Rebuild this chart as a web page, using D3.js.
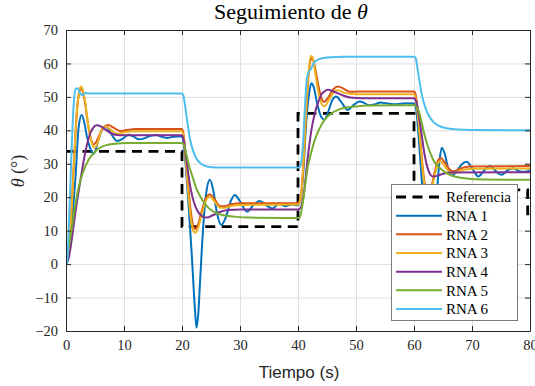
<!DOCTYPE html>
<html><head><meta charset="utf-8">
<script src="https://cdn.jsdelivr.net/npm/d3@7"></script>
<style>
body{margin:0;background:#fff}
svg{display:block}
</style></head><body>
<svg id="c" width="535" height="386"></svg>
<script>
// ---------- data ----------
const xTicks = [0, 10, 20, 30, 40, 50, 60, 70, 80];
const yTicks = [-20, -10, 0, 10, 20, 30, 40, 50, 60, 70];
const legendLabels = ["Referencia", "RNA 1", "RNA 2", "RNA 3", "RNA 4", "RNA 5", "RNA 6"];

const referencia = [[0,33.7],[20,33.7],[20,11.2],[40,11.2],[40,45.1],[60,45.1],[60,22.2],[79.6,22.2],[79.6,15],[80,15]];

const rna1 = [[0,0],[0.4,2],[1,12],[1.6,25],[2.2,41.2],[2.7,44.6],[3.2,42],[3.6,38.2],[4.2,34.5],[4.8,33],[5.6,37.2],[6.2,40.2],[6.8,41.2],[7.6,39.5],[8.8,36.8],[9.8,37.5],[10.8,38.7],[11.6,38.2],[12.6,37.3],[13.5,37.6],[14.6,38.4],[15.6,38.6],[16.5,38.1],[17.4,37.7],[18.5,38.1],[20,38.2],
  [20.3,36],[20.7,28],[21.2,16],[21.7,2.3],[22.2,-12.7],[22.5,-19],[22.8,-15],[23.1,-5.7],[23.7,12.3],[24.2,21.5],[24.8,25.2],[25.4,22],[26,15.5],[26.8,11.7],[27.6,14.2],[28.4,18.8],[29.1,20.7],[30,18.8],[31.2,15.7],[32.3,17.6],[33.4,18.9],[34.5,17.6],[35.6,16.6],[36.7,18.1],[37.8,17.3],[38.9,17.8],[40,17.6],
  [40.4,19],[40.9,27],[41.4,42],[42,52],[42.3,54.1],[42.7,53],[43.3,48],[44,44],[44.6,43.2],[45.2,45.5],[45.9,49],[46.6,50.1],[47.4,48.6],[48.6,46.1],[49.6,47.6],[50.6,48.6],[51.4,48.2],[52.2,47.5],[53.2,47.7],[54.2,48.3],[55.5,48],[57,47.8],[58.5,48.1],[60,48],
  [60.4,46],[60.8,38],[61.3,26],[61.8,14],[62.3,5],[62.8,2],[63.3,7],[63.9,20],[64.4,31],[64.8,34.8],[65.3,33],[65.9,28.5],[66.5,26.5],[67.3,27.6],[68.2,29.8],[69.1,30.6],[70.1,28.4],[71.1,26.2],[72.1,28],[73.1,29.3],[74.1,27.8],[75.1,26.7],[76.1,28],[77.1,28.7],[78.1,27.8],[79.1,27.6],[80,28.1]];

const rna2 = [[0,0],[0.45,3.4],[0.9,15],[1.3,28.2],[1.9,46.1],[2.3,51.5],[2.6,52.8],[2.9,51.5],[3.3,48.1],[3.7,43],[4.2,38.2],[4.7,35.8],[5.2,36.5],[5.8,38.8],[6.5,40.8],[7.3,41.6],[8.2,40.8],[9.3,39.8],[10.5,40.1],[12,40.4],[20,40.4],
  [20.3,38.5],[20.6,33],[21,25],[21.5,16],[22,11],[22.3,10.5],[22.8,12],[23.5,16.5],[24.2,20],[24.8,20.9],[25.5,19.7],[26.5,17.4],[27.3,17.3],[28.5,17.9],[30,18.2],[40,18.2],
  [40.3,19],[40.6,22],[41,32],[41.4,45],[41.8,56],[42.2,61.2],[42.5,61.6],[42.9,59],[43.5,53.5],[44.1,49.3],[44.5,48.5],[45.2,49.8],[46.1,52.3],[46.9,53.1],[47.9,52.4],[49,51.5],[50.5,51.6],[60,51.6],
  [60.3,50.5],[60.7,45],[61.1,37],[61.5,29],[62,22.5],[62.4,20.8],[62.9,22.3],[63.5,27],[64.1,30.8],[64.6,31.7],[65.3,30.4],[66.2,28.2],[66.9,27.8],[68,28.6],[69.5,29.2],[80,29.3]];

const rna3 = [[0,0],[0.45,3],[0.9,14],[1.3,27.5],[1.9,46],[2.3,52],[2.6,53.1],[2.9,52],[3.3,48.5],[3.8,42],[4.3,37.2],[4.9,34.8],[5.4,36],[6,39.5],[6.7,41.2],[7.4,40.6],[8.2,39.5],[9,39],[10,39.4],[12,39.7],[20,39.7],
  [20.3,38],[20.6,32],[21,23],[21.5,14],[22,9.8],[22.3,9.4],[22.8,11],[23.5,15.5],[24.2,19.3],[24.8,20.2],[25.5,19],[26.5,16.9],[27.3,16.8],[28.5,17.4],[30,17.7],[40,17.8],
  [40.3,18.5],[40.6,21.5],[41,32],[41.4,46],[41.8,57],[42.2,62.2],[42.5,62],[42.9,58],[43.5,51.5],[44.1,47.8],[44.6,47.2],[45.3,49],[46.2,51.5],[46.9,52],[48,51.2],[50,50.8],[60,50.8],
  [60.3,49.5],[60.7,44],[61.1,36],[61.5,28],[62,21.5],[62.4,19.8],[62.9,21.5],[63.5,26],[64.1,30],[64.5,30.8],[65.2,29.5],[66.1,27.6],[66.8,27.3],[68,28],[70,28.5],[80,28.6]];

const rna4 = [[0,0],[0.5,2],[1,7.5],[1.6,15.2],[2.5,25.2],[3.3,33.2],[4.2,39.2],[4.8,41],[5.3,41.5],[6,41.2],[6.8,40.2],[7.7,39.2],[8.5,38.7],[10,38.5],[20,38.5],
  [20.3,37],[20.6,33.5],[21,28],[21.5,22.5],[22,18.8],[22.7,15.8],[23.5,14.3],[24.3,13.9],[25.3,14.6],[26.5,15.6],[28,16.2],[30,16.3],[40,16.3],
  [40.5,17],[41,21],[41.7,32.2],[42.3,40],[42.9,45.1],[43.5,48.5],[44,50.6],[44.6,51.7],[45.2,52.1],[46,51.7],[47.5,50.6],[49,49.8],[51,49.6],[60,49.6],
  [60.4,48.5],[60.8,45],[61.3,39],[61.8,33],[62.3,29],[62.8,26.8],[63.3,26.2],[64,26.4],[65,27],[66.5,27.4],[80,27.5]];

const rna5 = [[0,0],[0.5,5],[1.03,11.2],[1.6,17.5],[2.2,23.2],[3,27.8],[3.9,31.2],[5,33.6],[6.2,35.1],[8,35.9],[10.8,36.2],[20,36.2],
  [20.3,35.8],[20.7,33.2],[21.2,29.5],[21.8,26.2],[22.5,22.5],[23.3,19.8],[24.1,17.7],[25,16.2],[26,15.2],[27,14.7],[29,14.2],[32,13.9],[40,13.8],
  [40.3,14],[40.9,19.2],[41.3,24.5],[41.7,29.2],[42.3,33.5],[42.9,37.2],[43.7,40.5],[44.6,43.2],[45.7,45],[46.9,46.1],[48.3,46.8],[49.8,47.1],[52,47.4],[60,47.5],
  [60.4,47],[60.8,45.8],[61.3,42.5],[61.8,38.8],[62.2,36.2],[62.8,33.3],[63.3,31.2],[64,29.5],[64.8,28.2],[65.6,27.2],[67,26.2],[69,25.6],[72,25.3],[80,25.2]];

const rna6 = [[0,0],[0.2,0.5],[0.5,12],[0.8,26],[1.1,40],[1.4,49.5],[1.7,52.5],[2,52.6],[2.4,51.2],[2.8,50.5],[3.3,51.2],[4,51],[20,51],
  [20.2,50.6],[20.8,44],[21.4,37.2],[22,33.5],[22.5,31.5],[23.3,30],[24.3,29.2],[26,28.9],[40,28.9],
  [40.3,29],[40.6,31],[40.9,37],[41.2,47],[41.5,55],[41.8,57.3],[42.2,58.3],[42.8,60.3],[43.5,61.2],[45,61.8],[48,62],[60,62],
  [60.3,61.6],[60.6,58.5],[61,54.1],[61.4,50.3],[61.9,47.1],[62.5,44.6],[63.3,42.6],[64.3,41.3],[65.6,40.6],[67,40.3],[70,40.1],[80,40]];

const seriesData = [rna1, rna2, rna3, rna4, rna5, rna6];
const seriesColors = ["#0072BD", "#D95319", "#EDB120", "#7E2F8E", "#77AC30", "#4DBEEE"];

// ---------- chart ----------
const SERIF = "'Liberation Serif', 'DejaVu Serif', serif";
const SANS = "'Liberation Sans', Arial, sans-serif";
const svg = d3.select("#c");
const L = 66, R = 530, T = 30, B = 331;
const x = d3.scaleLinear().domain([0, 80]).range([L, R]);
const y = d3.scaleLinear().domain([-20, 70]).range([B, T]);

// grid
const grid = svg.append("g");
grid.append("g").attr("transform", `translate(0,${B})`)
  .call(d3.axisBottom(x).tickValues(xTicks).tickSize(-(B - T)).tickFormat(""))
  .call(g => { g.select(".domain").remove(); g.selectAll("line").attr("stroke", "#dfdfdf").attr("stroke-width", 1); });
grid.append("g").attr("transform", `translate(${L},0)`)
  .call(d3.axisLeft(y).tickValues(yTicks).tickSize(-(R - L)).tickFormat(""))
  .call(g => { g.select(".domain").remove(); g.selectAll("line").attr("stroke", "#dfdfdf").attr("stroke-width", 1); });

svg.append("defs").append("clipPath").attr("id", "clip")
  .append("rect").attr("x", L).attr("y", T).attr("width", R - L).attr("height", B - T);

const plot = svg.append("g").attr("clip-path", "url(#clip)");
const lineRef = d3.line().x(d => x(d[0])).y(d => y(d[1]));
plot.append("path").datum(referencia).attr("d", lineRef)
  .attr("fill", "none").attr("stroke", "#000").attr("stroke-width", 2.8)
  .attr("stroke-dasharray", "10,6.5");

const lineS = d3.line().x(d => x(d[0])).y(d => y(d[1])).curve(d3.curveMonotoneX);
seriesData.forEach((s, i) => {
  plot.append("path").datum(s).attr("d", lineS)
    .attr("fill", "none").attr("stroke", seriesColors[i]).attr("stroke-width", 2)
    .attr("stroke-linejoin", "round");
});

// axes
const axCol = "#262626";
const fmt = d => d < 0 ? "\u2212" + Math.abs(d) : String(d);
const xa = svg.append("g").attr("transform", `translate(0,${B})`)
  .call(d3.axisBottom(x).tickValues(xTicks).tickSizeInner(-5).tickSizeOuter(0).tickPadding(9).tickFormat(fmt));
const xt = svg.append("g").attr("transform", `translate(0,${T})`)
  .call(d3.axisTop(x).tickValues(xTicks).tickSizeInner(-5).tickSizeOuter(0).tickFormat(""));
const ya = svg.append("g").attr("transform", `translate(${L},0)`)
  .call(d3.axisLeft(y).tickValues(yTicks).tickSizeInner(-5).tickSizeOuter(0).tickPadding(8).tickFormat(fmt));
const yr = svg.append("g").attr("transform", `translate(${R},0)`)
  .call(d3.axisRight(y).tickValues(yTicks).tickSizeInner(-5).tickSizeOuter(0).tickFormat(""));
[xa, xt, ya, yr].forEach(g => {
  g.attr("font-family", null).attr("font-size", null);
  g.select(".domain").attr("stroke", axCol).attr("stroke-width", 1);
  g.selectAll(".tick line").attr("stroke", axCol);
  g.selectAll("text").attr("fill", axCol).style("font-family", SERIF).style("font-size", "14.5px");
});

// title & labels
const title = svg.append("text").attr("x", 291).attr("y", 19)
  .attr("text-anchor", "middle").attr("fill", "#000")
  .style("font-family", SERIF).style("font-size", "22px");
title.append("tspan").text("Seguimiento de ");
title.append("tspan").attr("font-style", "italic").text("\u03b8");

svg.append("text").attr("x", 299).attr("y", 378).attr("text-anchor", "middle")
  .attr("fill", axCol).style("font-family", SANS).style("font-size", "17px")
  .text("Tiempo (s)");

const yl = svg.append("text")
  .attr("transform", "translate(24,171) rotate(-90)").attr("text-anchor", "middle")
  .attr("fill", axCol).style("font-family", SERIF).style("font-size", "18px");
yl.append("tspan").attr("font-style", "italic").text("\u03b8");
yl.append("tspan").text(" (\u00b0)");

// legend
const lg = svg.append("g");
lg.append("rect").attr("x", 391.5).attr("y", 184.5).attr("width", 126).attr("height", 136)
  .attr("fill", "#fff").attr("stroke", "#7a7a7a").attr("stroke-width", 1);
const legY = d3.scalePoint().domain(legendLabels).range([197, 309]);
legendLabels.forEach((lab, i) => {
  const yy = legY(lab);
  const ln = lg.append("line").attr("x1", 396).attr("x2", 442).attr("y1", yy).attr("y2", yy);
  if (i === 0) ln.attr("stroke", "#000").attr("stroke-width", 2.8).attr("stroke-dasharray", "10,6.5");
  else ln.attr("stroke", seriesColors[i - 1]).attr("stroke-width", 2);
  lg.append("text").attr("x", 446).attr("y", yy).attr("dy", "0.35em")
    .attr("fill", "#000").style("font-family", SERIF).style("font-size", "15px").text(lab);
});
</script>
</body></html>
